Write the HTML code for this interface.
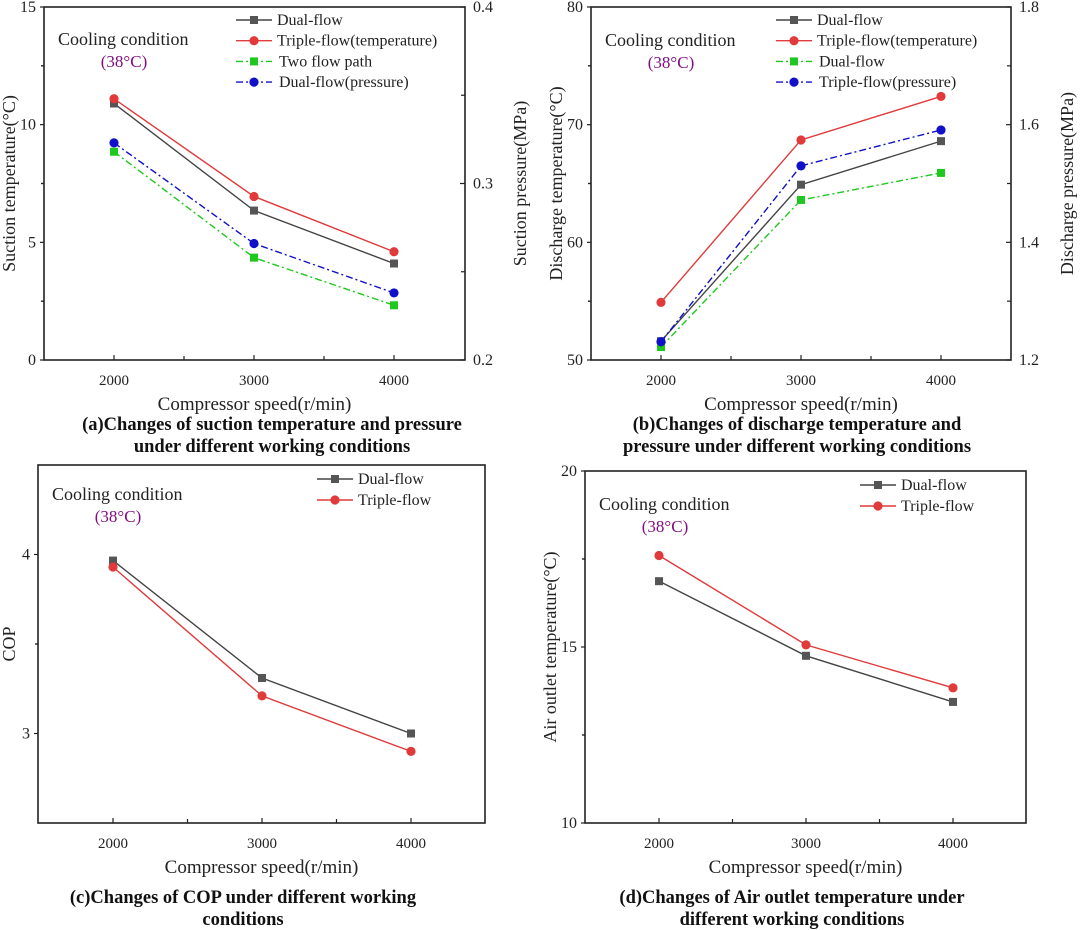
<!DOCTYPE html>
<html><head><meta charset="utf-8"><style>
html,body{margin:0;padding:0;background:#fff;}
svg{display:block;font-family:"Liberation Serif",serif;}
</style></head><body>
<svg id="fig" width="1080" height="930" viewBox="0 0 1080 930" xmlns="http://www.w3.org/2000/svg"></svg>
<script>
// ---------- data ----------
const speeds = [2000, 3000, 4000];
// Panel a
const aDualTemp = [10.9, 6.35, 4.1];
const aTripleTemp = [11.1, 6.95, 4.6];
const aTwoPathPress = [0.318, 0.258, 0.231];
const aDualPress = [0.323, 0.266, 0.238];
const aLeftTicks = [0, 5, 10, 15];
const aRightTicks = [0.2, 0.3, 0.4];
// Panel b
const bDualTemp = [51.6, 64.9, 68.6];
const bTripleTemp = [54.9, 68.7, 72.4];
const bDualPress = [1.222, 1.472, 1.518];
const bTriplePress = [1.231, 1.53, 1.591];
const bLeftTicks = [50, 60, 70, 80];
const bRightTicks = [1.2, 1.4, 1.6, 1.8];
// Panel c
const cDualCOP = [3.966, 3.31, 3.0];
const cTripleCOP = [3.93, 3.21, 2.9];
const cLeftTicks = [3, 4];
// Panel d
const dDualAir = [16.87, 14.75, 13.44];
const dTripleAir = [17.6, 15.06, 13.84];
const dLeftTicks = [10, 15, 20];

const NS = "http://www.w3.org/2000/svg";
const svg = document.getElementById('fig');
function mk(tag, attrs, parent, text){
  const e = document.createElementNS(NS, tag);
  for (const k in attrs) e.setAttribute(k, attrs[k]);
  if (text !== undefined) e.textContent = text;
  (parent || svg).appendChild(e);
  return e;
}
function marker(g, type, x, y, color){
  let m;
  if (type === 'sq') m = mk('rect', {x:x-4, y:y-4, width:8, height:8, fill:color}, g);
  else m = mk('circle', {cx:x, cy:y, r:4.6, fill:color}, g);
  
  
}

function panel(cfg){
  const g = mk('g', {});
  
  
  const {x0, x1, y0, y1} = cfg;
  const xs = v => cfg.xa + (v - 2000) / 1000 * (cfg.xb - cfg.xa);
  const yl = v => y1 - (v - cfg.lmin) / (cfg.lmax - cfg.lmin) * (y1 - y0);
  const yr = v => y1 - (v - cfg.rmin) / (cfg.rmax - cfg.rmin) * (y1 - y0);
  const frame = mk('rect', {x:x0, y:y0, width:x1-x0, height:y1-y0, fill:'none', stroke:'#222', 'stroke-width':1.6}, g);
  
  
  speeds.forEach(s => {
    const x = xs(s);
    mk('line', {x1:x, x2:x, y1:y1, y2:y1-5, stroke:'#222', 'stroke-width':1.2}, g);
    const t = mk('text', {x:x, y:y1+25, 'text-anchor':'middle', 'font-size':15, fill:'#222'}, g, String(s));
    
    
  });
  [2500, 3500].forEach(s => mk('line', {x1:xs(s), x2:xs(s), y1:y1, y2:y1-4, stroke:'#222', 'stroke-width':1.2}, g));
  cfg.lticks.forEach(v => {
    const y = yl(v);
    mk('line', {x1:x0, x2:x0-4, y1:y, y2:y, stroke:'#222', 'stroke-width':1.2}, g);
    const t = mk('text', {x:x0-8, y:y+5, 'text-anchor':'end', 'font-size':16, fill:'#222'}, g, String(v));
    
    
  });
  const step = cfg.lticks[1] - cfg.lticks[0];
  cfg.lticks.forEach(a => {
    [a - step/2, a + step/2].forEach(v => {
      if (v > cfg.lmin && v < cfg.lmax)
        mk('line', {x1:x0, x2:x0-3, y1:yl(v), y2:yl(v), stroke:'#222', 'stroke-width':1.2}, g);
    });
  });
  if (cfg.rticks){
    const rs = cfg.rticks[1] - cfg.rticks[0];
    cfg.rticks.forEach((v, i) => {
      const y = yr(v);
      mk('line', {x1:x1, x2:x1-5, y1:y, y2:y, stroke:'#222', 'stroke-width':1.2}, g);
      const t = mk('text', {x:x1+8, y:y+5, 'font-size':16, fill:'#222'}, g, v.toFixed(1));
      
      
      if (i < cfg.rticks.length - 1){
        const m = yr(v + rs/2);
        mk('line', {x1:x1, x2:x1-4, y1:m, y2:m, stroke:'#222', 'stroke-width':1.2}, g);
      }
    });
    const ry = (y0+y1)/2;
    const rt = mk('text', {x:cfg.rlx, y:ry, 'text-anchor':'middle', 'font-size':18, fill:'#222', transform:`rotate(-90 ${cfg.rlx} ${ry})`}, g, cfg.rlabel);
    
    
  }
  const ly = (y0+y1)/2;
  const lt = mk('text', {x:cfg.llx, y:ly, 'text-anchor':'middle', 'font-size':18, fill:'#222', transform:`rotate(-90 ${cfg.llx} ${ly})`}, g, cfg.llabel);
  
  
  const xt = mk('text', {x:(x0+x1)/2, y:cfg.xtY, 'text-anchor':'middle', 'font-size':19, fill:'#222'}, g, 'Compressor speed(r/min)');
  
  
  const an = mk('text', {x:cfg.annX, y:cfg.annY, 'font-size':18, fill:'#222'}, g, 'Cooling condition');
  
  
  const an2 = mk('text', {x:cfg.annX+66, y:cfg.annY+22, 'text-anchor':'middle', 'font-size':17, fill:'#800e80'}, g, '(38°C)');
  
  
  cfg.series.forEach((s, i) => {
    const sc = s.axis === 'r' ? yr : yl;
    const pts = s.data.map((v, j) => [xs(speeds[j]), sc(v)]);
    const sg = mk('g', {}, g);
    
    
    const attrs = {points: pts.map(p => p.join(',')).join(' '), fill:'none', stroke:s.color, 'stroke-width':1.4};
    if (s.dash) attrs['stroke-dasharray'] = '7,3,2,3';
    mk('polyline', attrs, sg);
    pts.forEach(p => marker(sg, s.m, p[0], p[1], s.fill));
    const lg = mk('g', {}, g);
    
    
    const y = cfg.legY + i * cfg.legDy;
    const la = {x1:cfg.legX, x2:cfg.legX+36, y1:y, y2:y, stroke:s.color, 'stroke-width':1.4};
    if (s.dash) la['stroke-dasharray'] = '7,3,2,3';
    mk('line', la, lg);
    marker(lg, s.m, cfg.legX+18, y, s.fill);
    mk('text', {x:cfg.legX+41 + (s.dash?2:0), y:y+5, 'font-size':16, fill:'#222'}, lg, s.label);
  });
  cfg.caption.forEach((c, i) => {
    const t = mk('text', {x:cfg.capX, y:cfg.capY + i*22, 'text-anchor':'middle', 'font-size':18.5, 'font-weight':'bold', fill:'#111'}, g, c);
    
    
  });
}

const GR = '#444', RD = '#e03a3a', GN = '#1ec81e', BL = '#1010c8';
panel({name:'panel-a-suction', x0:44, x1:465, y0:7, y1:360, xa:114, xb:254,
  lmin:0, lmax:15, rmin:0.2, rmax:0.4, lticks:aLeftTicks, rticks:aRightTicks,
  llabel:'Suction temperature(°C)', llx:15, rlabel:'Suction pressure(MPa)', rlx:526,
  annX:58, annY:45, legX:236, legY:20, legDy:20.7, xtY:410,
  capX:272, capY:430, caption:['(a)Changes of suction temperature and pressure','under different working conditions'],
  series:[
    {key:'series-dual-flow', label:'Dual-flow', data:aDualTemp, axis:'l', color:GR, fill:'#555', m:'sq'},
    {key:'series-triple-flow-temperature', label:'Triple-flow(temperature)', data:aTripleTemp, axis:'l', color:RD, fill:RD, m:'ci'},
    {key:'series-two-flow-path', label:'Two flow path', data:aTwoPathPress, axis:'r', color:GN, fill:GN, m:'sq', dash:true},
    {key:'series-dual-flow-pressure', label:'Dual-flow(pressure)', data:aDualPress, axis:'r', color:BL, fill:BL, m:'ci', dash:true}]});
panel({name:'panel-b-discharge', x0:591, x1:1011, y0:7, y1:360, xa:661, xb:801,
  lmin:50, lmax:80, rmin:1.2, rmax:1.8, lticks:bLeftTicks, rticks:bRightTicks,
  llabel:'Discharge temperature(°C)', llx:562, rlabel:'Discharge pressure(MPa)', rlx:1073,
  annX:605, annY:46, legX:776, legY:20, legDy:20.7, xtY:410,
  capX:797, capY:430, caption:['(b)Changes of discharge temperature and','pressure under different working conditions'],
  series:[
    {key:'series-dual-flow', label:'Dual-flow', data:bDualTemp, axis:'l', color:GR, fill:'#555', m:'sq'},
    {key:'series-triple-flow-temperature', label:'Triple-flow(temperature)', data:bTripleTemp, axis:'l', color:RD, fill:RD, m:'ci'},
    {key:'series-dual-flow-pressure', label:'Dual-flow', data:bDualPress, axis:'r', color:GN, fill:GN, m:'sq', dash:true},
    {key:'series-triple-flow-pressure', label:'Triple-flow(pressure)', data:bTriplePress, axis:'r', color:BL, fill:BL, m:'ci', dash:true}]});
panel({name:'panel-c-cop', x0:38, x1:485, y0:465, y1:823, xa:113, xb:262,
  lmin:2.5, lmax:4.5, lticks:cLeftTicks,
  llabel:'COP', llx:15,
  annX:52, annY:500, legX:317, legY:479, legDy:21, xtY:873,
  capX:243, capY:903, caption:['(c)Changes of COP under different working','conditions'],
  series:[
    {key:'series-dual-flow', label:'Dual-flow', data:cDualCOP, axis:'l', color:GR, fill:'#555', m:'sq'},
    {key:'series-triple-flow', label:'Triple-flow', data:cTripleCOP, axis:'l', color:RD, fill:RD, m:'ci'}]});
panel({name:'panel-d-air-outlet', x0:585, x1:1026, y0:471, y1:823, xa:659, xb:806,
  lmin:10, lmax:20, lticks:dLeftTicks,
  llabel:'Air outlet temperature(°C)', llx:556,
  annX:599, annY:510, legX:860, legY:485, legDy:21, xtY:873,
  capX:792, capY:903, caption:['(d)Changes of Air outlet temperature under','different working conditions'],
  series:[
    {key:'series-dual-flow', label:'Dual-flow', data:dDualAir, axis:'l', color:GR, fill:'#555', m:'sq'},
    {key:'series-triple-flow', label:'Triple-flow', data:dTripleAir, axis:'l', color:RD, fill:RD, m:'ci'}]});
</script>
</body></html>
